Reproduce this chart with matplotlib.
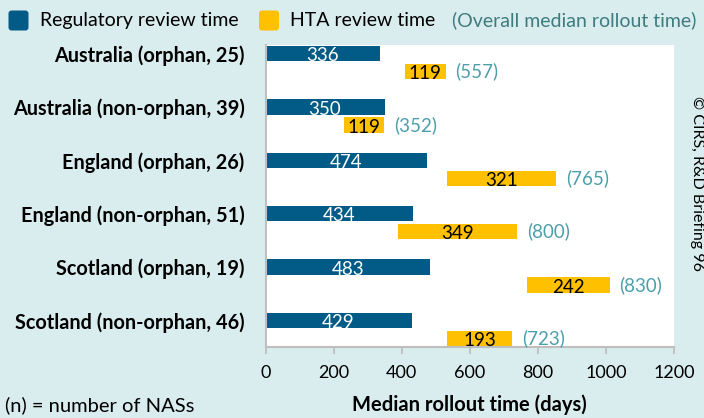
import matplotlib
matplotlib.use("Agg")
import matplotlib.pyplot as plt
from matplotlib.patches import FancyBboxPatch
import numpy as np

# data
categories = [
    "Australia (orphan, 25)",
    "Australia (non-orphan, 39)",
    "England (orphan, 26)",
    "England (non-orphan, 51)",
    "Scotland (orphan, 19)",
    "Scotland (non-orphan, 46)",
]
regulatory = [336, 350, 474, 434, 483, 429]
hta = [119, 119, 321, 349, 242, 193]
hta_start = [410, 230, 533, 390, 769, 532]
overall = [557, 352, 765, 800, 830, 723]
xticks = [0, 200, 400, 600, 800, 1000, 1200]

BG = "#d9ecee"
BLUE = "#015b86"
YELLOW = "#ffc000"
TEAL = "#4b9faa"
TEAL_DARK = "#3e7c80"
GREY = "#bfbfbf"

plt.rcParams["font.family"] = ["Lato", "DejaVu Sans"]

W, H = 704, 418
fig = plt.figure(figsize=(W / 100, H / 100), dpi=100, facecolor=BG)

# plot area in pixel terms
left, right, top, bottom = 265.5, 674, 45, 346.5
ax = fig.add_axes([left / W, 1 - bottom / H, (right - left) / W, (bottom - top) / H])
ax.set_facecolor("white")

y = np.arange(len(categories))
h = 0.29
off = 0.335

ax.barh(y, regulatory, height=h, color=BLUE)
ax.barh(y + off, hta, left=hta_start, height=h, color=YELLOW)

for i in range(len(categories)):
    ax.text(regulatory[i] / 2, y[i] + h / 2, str(regulatory[i]), ha="center",
            va="baseline", color="white", fontsize=13.5)
    ax.text(hta_start[i] + hta[i] / 2, y[i] + off + h / 2, str(hta[i]), ha="center",
            va="baseline", color="black", fontsize=13.5)
    ax.annotate(f"({overall[i]})", xy=(hta_start[i] + hta[i], y[i] + off),
                xytext=(7, 0), textcoords="offset points", ha="left", va="center",
                color=TEAL, fontsize=13.5)

ax.set_xlim(0, 1200)
ax.set_ylim(5.487, -0.161)
ax.set_xticks(xticks)
ax.set_xticklabels([str(t) for t in xticks], fontsize=13)
ax.set_yticks(y)
ax.set_yticklabels(categories, fontsize=14.3, fontweight="bold")
ax.tick_params(axis="y", length=0, pad=15)
ax.tick_params(axis="x", length=5.3, width=1.3, color=GREY, pad=8)

for s in ["top", "right"]:
    ax.spines[s].set_visible(False)
for s in ["left", "bottom"]:
    ax.spines[s].set_color(GREY)
    ax.spines[s].set_linewidth(1.5)

fig.text((left + right) / 2 / W, 1 - 405 / H, "Median rollout time (days)",
         ha="center", va="center", fontsize=14.5, fontweight="bold")
fig.text(5 / W, 1 - 405 / H, "(n) = number of NASs", ha="left", va="center", fontsize=14.5)
fig.text(696.5 / W, 1 - 184 / H, "\u00a9 CIRS, R&D Briefing 96", rotation=-90,
         ha="center", va="center", fontsize=11.5)

# legend drawn in pixel space
ov = fig.add_axes([0, 0, 1, 1])
ov.set_xlim(0, W)
ov.set_ylim(H, 0)
ov.axis("off")
ov.patch.set_alpha(0)
for x0, col in [(8.5, BLUE), (259, YELLOW)]:
    ov.add_patch(FancyBboxPatch((x0 + 3, 13.5), 14, 14,
                                boxstyle="round,pad=3", color=col, lw=0))
ov.text(40, 20.5, "Regulatory review time", va="center", fontsize=14)
ov.text(290, 20.5, "HTA review time", va="center", fontsize=14)
ov.text(452, 20.5, "(Overall median rollout time)", va="center", fontsize=14,
        color=TEAL_DARK)

fig.savefig("out.png", dpi=100, facecolor=BG)
